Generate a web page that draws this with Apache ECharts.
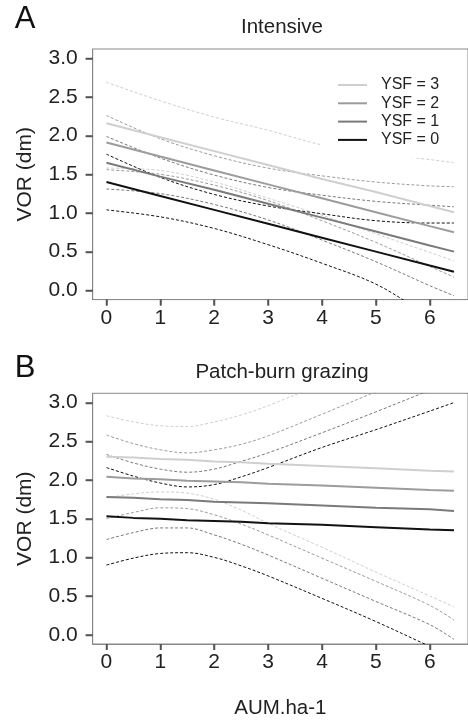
<!DOCTYPE html>
<html><head><meta charset="utf-8">
<script src="https://cdn.jsdelivr.net/npm/echarts@6/dist/echarts.min.js"></script>
<style>html,body{margin:0;padding:0;background:#fff}#c{width:468px;height:720px}</style>
</head><body><div id="c"></div>
<script>
// ---------- data ----------
const ysfNames = ['YSF = 3', 'YSF = 2', 'YSF = 1', 'YSF = 0'];
const xTicks = [0, 1, 2, 3, 4, 5, 6];
const yTicks = [0, 0.5, 1, 1.5, 2, 2.5, 3];

// Panel A: Intensive
const intensiveX = [0, 1, 2, 3, 4, 5, 6, 6.45];
const intensiveFitYSF3 = [2.16, 1.98, 1.80, 1.62, 1.44, 1.27, 1.09, 1.01];
const intensiveFitYSF2 = [1.91, 1.73, 1.55, 1.37, 1.19, 1.01, 0.83, 0.75];
const intensiveFitYSF1 = [1.65, 1.47, 1.30, 1.12, 0.94, 0.76, 0.58, 0.50];
const intensiveFitYSF0 = [1.40, 1.22, 1.04, 0.86, 0.68, 0.50, 0.32, 0.24];
const intensiveUpperYSF3 = [2.69, 2.45, 2.24, 2.07, 1.88, 1.77, 1.69, 1.65];
const intensiveLowerYSF3 = [1.58, 1.55, 1.40, 1.19, 0.97, 0.73, 0.49, 0.38];
const intensiveUpperYSF2 = [2.26, 1.96, 1.74, 1.58, 1.48, 1.40, 1.35, 1.34];
const intensiveLowerYSF2 = [1.56, 1.50, 1.36, 1.16, 0.90, 0.62, 0.31, 0.17];
const intensiveUpperYSF1 = [1.99, 1.71, 1.49, 1.33, 1.23, 1.15, 1.10, 1.08];
const intensiveLowerYSF1 = [1.31, 1.25, 1.11, 0.91, 0.65, 0.37, 0.06, -0.07];
const intensiveUpperYSF0 = [1.76, 1.46, 1.24, 1.09, 0.99, 0.90, 0.87, 0.87];
const intensiveLowerYSF0 = [1.04, 0.95, 0.80, 0.59, 0.35, 0.08, -0.32, -0.40];

// Panel B: Patch-burn grazing
const patchX = [0, 0.5, 1, 1.5, 2, 2.5, 3, 4, 5, 6, 6.45];
const patchFitYSF3 = [2.30, 2.29, 2.27, 2.26, 2.24, 2.23, 2.21, 2.18, 2.15, 2.12, 2.11];
const patchFitYSF2 = [2.04, 2.02, 2.01, 1.99, 1.98, 1.97, 1.95, 1.93, 1.90, 1.87, 1.86];
const patchFitYSF1 = [1.78, 1.77, 1.75, 1.74, 1.72, 1.71, 1.70, 1.67, 1.64, 1.62, 1.60];
const patchFitYSF0 = [1.53, 1.51, 1.50, 1.48, 1.47, 1.46, 1.44, 1.42, 1.39, 1.36, 1.35];
const patchUpperYSF3 = [2.83, 2.75, 2.70, 2.69, 2.75, 2.84, 2.96, 3.25, 3.62, 3.99, 4.15];
const patchLowerYSF3 = [1.77, 1.82, 1.845, 1.83, 1.75, 1.61, 1.44, 1.13, 0.81, 0.50, 0.36];
const patchUpperYSF2 = [2.58, 2.47, 2.39, 2.35, 2.39, 2.46, 2.57, 2.85, 3.14, 3.43, 3.56];
const patchLowerYSF2 = [1.50, 1.58, 1.64, 1.63, 1.55, 1.43, 1.29, 0.99, 0.69, 0.38, 0.19];
const patchUpperYSF1 = [2.33, 2.22, 2.14, 2.10, 2.14, 2.24, 2.35, 2.61, 2.88, 3.16, 3.29];
const patchLowerYSF1 = [1.23, 1.32, 1.38, 1.38, 1.29, 1.17, 1.03, 0.73, 0.43, 0.13, -0.06];
const patchUpperYSF0 = [2.16, 2.05, 1.96, 1.91, 1.94, 2.04, 2.16, 2.42, 2.65, 2.89, 3.00];
const patchLowerYSF0 = [0.90, 0.99, 1.05, 1.06, 1.00, 0.89, 0.76, 0.47, 0.17, -0.15, -0.29];

// ---------- styles ----------
const COLORS = ['#cfcfcf', '#9c9c9c', '#7a7a7a', '#111111'];
const FONT = "'Liberation Sans', Arial, sans-serif";
const X_MIN = -0.255, X_MAX = 6.71, Y_MIN = -0.12, Y_MAX = 3.12;

const intensiveFits = [intensiveFitYSF3, intensiveFitYSF2, intensiveFitYSF1, intensiveFitYSF0];
const intensiveUppers = [intensiveUpperYSF3, intensiveUpperYSF2, intensiveUpperYSF1, intensiveUpperYSF0];
const intensiveLowers = [intensiveLowerYSF3, intensiveLowerYSF2, intensiveLowerYSF1, intensiveLowerYSF0];
const patchFits = [patchFitYSF3, patchFitYSF2, patchFitYSF1, patchFitYSF0];
const patchUppers = [patchUpperYSF3, patchUpperYSF2, patchUpperYSF1, patchUpperYSF0];
const patchLowers = [patchLowerYSF3, patchLowerYSF2, patchLowerYSF1, patchLowerYSF0];

function line(name, xs, ys, color, width, dashed, g) {
  return {
    name: name, type: 'line', xAxisIndex: g, yAxisIndex: g,
    data: xs.map((x, i) => [x, ys[i]]),
    showSymbol: false, symbol: 'none', smooth: dashed ? 0.35 : false, silent: true,
    clip: true, z: dashed ? 2 : 3,
    lineStyle: { color: color, width: width, type: dashed ? [3, 2] : 'solid' },
    itemStyle: { color: color }
  };
}

const series = [];
[[intensiveX, intensiveFits, intensiveUppers, intensiveLowers, 0, ''],
 [patchX, patchFits, patchUppers, patchLowers, 1, 'B ']].forEach(([xs, fits, ups, lows, g, pre]) => {
  for (let k = 0; k < 4; k++) {
    series.push(line(pre + ysfNames[k] + ' upper', xs, ups[k], COLORS[k], 1, true, g));
    series.push(line(pre + ysfNames[k] + ' lower', xs, lows[k], COLORS[k], 1, true, g));
  }
  for (let k = 0; k < 4; k++) {
    series.push(line(pre + ysfNames[k], xs, fits[k], COLORS[k], 2, false, g));
  }
});

function xAx(g, withName) {
  return {
    type: 'value', gridIndex: g, min: X_MIN, max: X_MAX, position: 'bottom',
    axisLine: { show: true, onZero: false, lineStyle: { color: '#888', width: 1 } },
    splitLine: { show: false },
    axisTick: { show: true, inside: false, customValues: xTicks, length: 6, lineStyle: { color: '#555', width: 1.5 } },
    axisLabel: { show: true, customValues: xTicks, fontSize: 21, color: '#222', margin: 8, fontFamily: FONT },
    name: withName ? 'AUM.ha-1' : '', nameLocation: 'middle', nameGap: 54,
    nameTextStyle: { fontSize: 20.5, color: '#222', fontFamily: FONT }
  };
}
function yAx(g) {
  return {
    type: 'value', gridIndex: g, min: Y_MIN, max: Y_MAX, position: 'left',
    axisLine: { show: true, onZero: false, lineStyle: { color: '#888', width: 1 } },
    splitLine: { show: false },
    axisTick: { show: true, inside: false, customValues: yTicks, length: 7, lineStyle: { color: '#555', width: 1.5 } },
    axisLabel: { show: true, customValues: yTicks, fontSize: 21, color: '#222', margin: 15, fontFamily: FONT,
      formatter: v => v.toFixed(1) },
    name: 'VOR (dm)', nameLocation: 'middle', nameGap: 57,
    nameTextStyle: { fontSize: 21, color: '#222', fontFamily: FONT }
  };
}

const textGraphics = [
  { type: 'text', x: 282, y: 27, style: { text: 'Intensive', font: '20.5px ' + FONT, fill: '#222', textAlign: 'center', textVerticalAlign: 'middle' } },
  { type: 'text', x: 282, y: 372, style: { text: 'Patch-burn grazing', font: '20.5px ' + FONT, fill: '#222', textAlign: 'center', textVerticalAlign: 'middle' } },
  { type: 'text', x: 25, y: 19, style: { text: 'A', font: '31px ' + FONT, fill: '#111', textAlign: 'center', textVerticalAlign: 'middle' } },
  { type: 'text', x: 25, y: 368, style: { text: 'B', font: '31px ' + FONT, fill: '#111', textAlign: 'center', textVerticalAlign: 'middle' } }
];

const option = {
  backgroundColor: '#fff',
  animation: false,
  grid: [
    { left: 92.7, top: 49, width: 379, height: 250.6, show: true, borderColor: '#888', borderWidth: 1, backgroundColor: 'transparent' },
    { left: 92.7, top: 393.3, width: 379, height: 250.7, show: true, borderColor: '#888', borderWidth: 1, backgroundColor: 'transparent' }
  ],
  xAxis: [xAx(0, false), xAx(1, true)],
  yAxis: [yAx(0), yAx(1)],
  legend: {
    data: ysfNames.map(n => ({ name: n, icon: 'rect' })), orient: 'vertical', left: 320, top: 66,
    padding: [10, 12, 9, 18], backgroundColor: '#fff', borderWidth: 0,
    itemWidth: 29, itemHeight: 2, itemGap: 0.3, selectedMode: false,
    textStyle: { fontSize: 16, color: '#222', fontFamily: FONT, lineHeight: 18, padding: [0, 0, 0, 9] }
  },
  graphic: textGraphics,
  series: series
};

const chart = echarts.init(document.getElementById('c'), null, { renderer: 'canvas' });
chart.setOption(option);

// Outward tick marks placed through the chart's own axis scales
const tickEls = [];
[0, 1].forEach(g => {
  const bottom = chart.convertToPixel({ yAxisIndex: g }, Y_MIN);
  const left = chart.convertToPixel({ xAxisIndex: g }, X_MIN);
  if (!isFinite(bottom) || !isFinite(left)) return;
  xTicks.forEach(v => {
    const px = Math.round(chart.convertToPixel({ xAxisIndex: g }, v)) + 0.5;
    tickEls.push({ type: 'line', silent: true, z: 10,
      shape: { x1: px, y1: bottom, x2: px, y2: bottom + 6 },
      style: { stroke: '#555', lineWidth: 1.5 } });
  });
  yTicks.forEach(v => {
    const py = Math.round(chart.convertToPixel({ yAxisIndex: g }, v)) + 0.5;
    tickEls.push({ type: 'line', silent: true, z: 10,
      shape: { x1: left - 7, y1: py, x2: left, y2: py },
      style: { stroke: '#555', lineWidth: 1.5 } });
  });
});
chart.setOption({ graphic: textGraphics.concat(tickEls) }, { replaceMerge: ['graphic'] });
</script>
</body></html>
